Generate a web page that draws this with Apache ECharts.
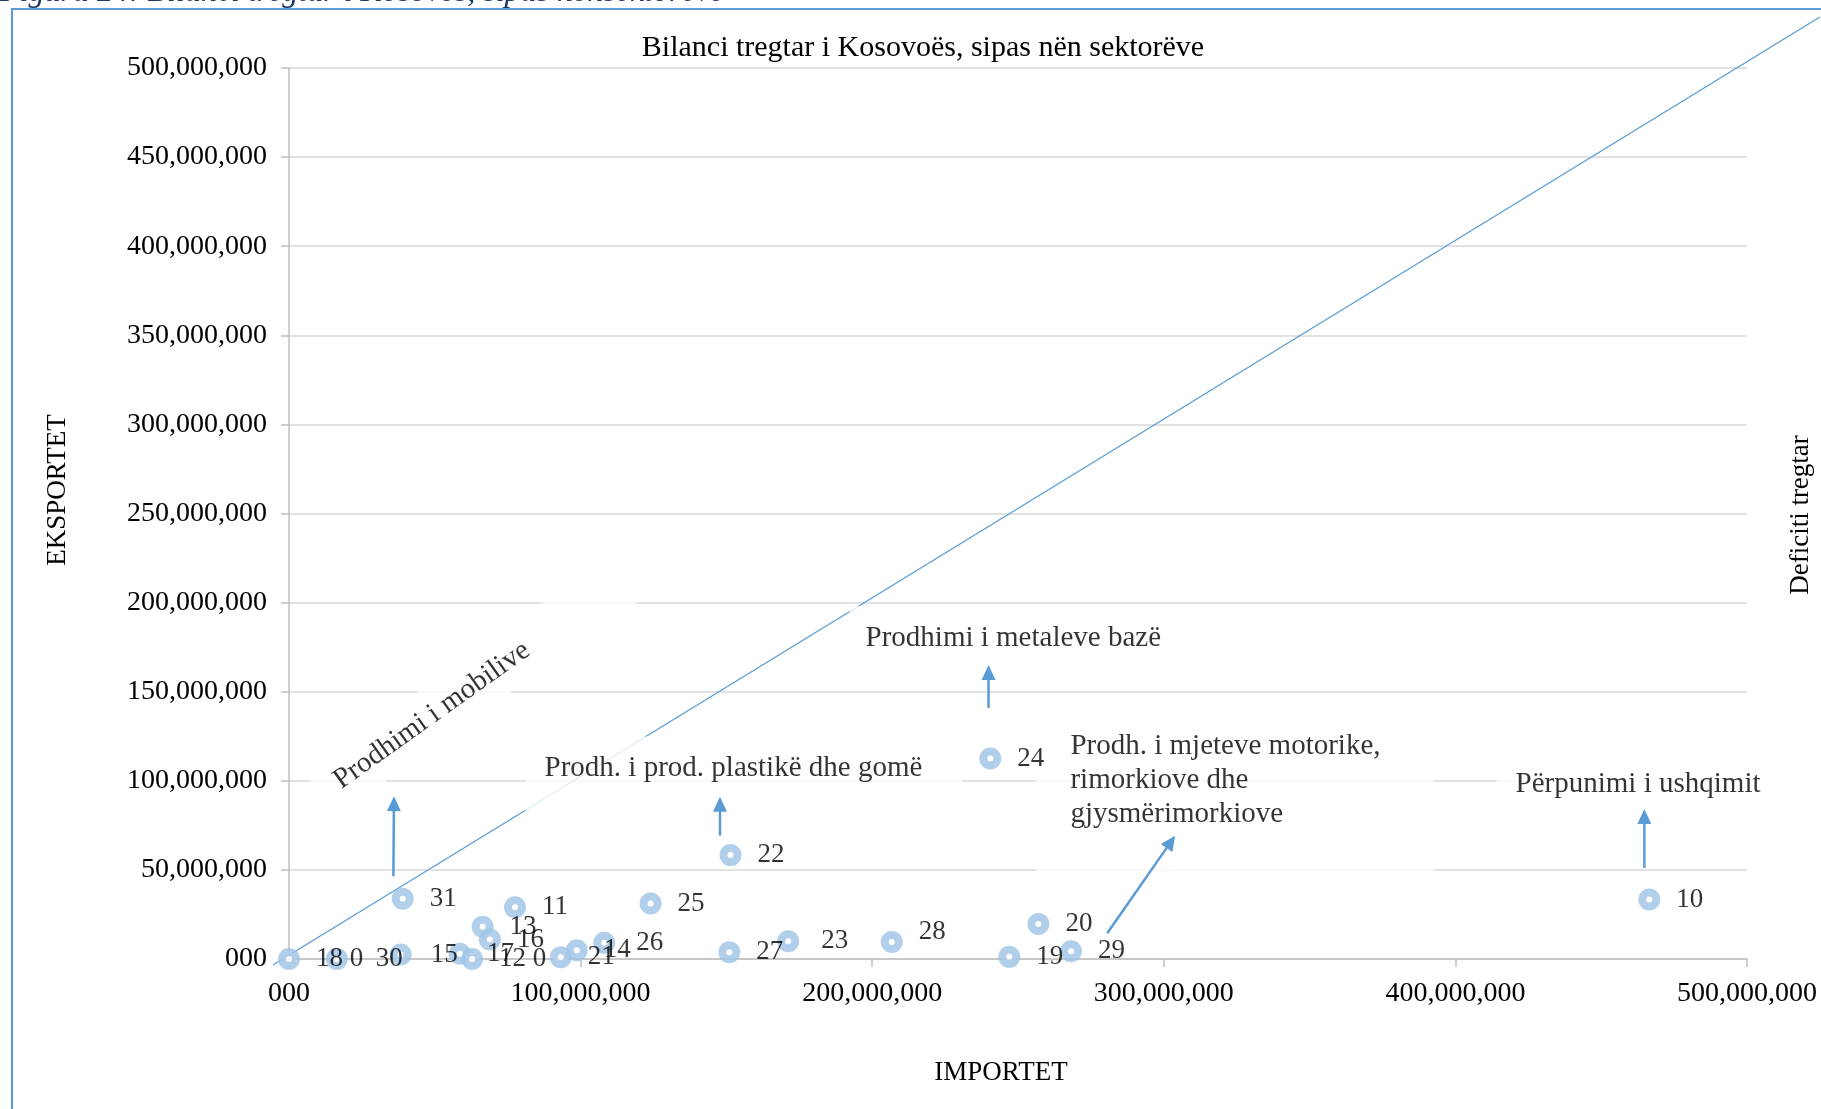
<!DOCTYPE html>
<html><head><meta charset="utf-8">
<script src="https://cdn.jsdelivr.net/npm/echarts@6/dist/echarts.min.js"></script>
<style>html,body{margin:0;padding:0;background:#fff}#c{width:1821px;height:1109px}</style>
</head><body><div id="c"></div>
<script>
const M = 1e6;
// ---- data (millions) ----
const sectorLabels = ['18 0','30','15','17','12 0','13','16','31','11','21','14','26','25','27','22','23','28','24','19','20','29','10'];
const importsM = [0, 16.4, 38.3, 58.6, 62.8, 66.4, 68.9, 39.0, 77.5, 93.2, 98.7, 108.1, 124.0, 151.0, 151.4, 171.2, 206.7, 240.5, 247.0, 257.0, 268.2, 466.5];
const exportsM = [0, 0, 2.5, 2.9, 0, 18.1, 10.9, 33.8, 29.0, 1.0, 4.9, 9.1, 31.1, 3.8, 58.3, 10.0, 9.6, 112.5, 1.2, 19.7, 4.4, 33.4];
const xTickValuesM = [0, 100, 200, 300, 400, 500];
const yTickValuesM = [0, 50, 100, 150, 200, 250, 300, 350, 400, 450, 500];
const deficitLineX = [-5.5, 525];
const deficitLineY = [-3.4, 528.6];
const annotationTexts = ['Prodhimi i mobilive', 'Prodh. i prod. plastikë dhe gomë', 'Prodhimi i metaleve bazë', 'Prodh. i mjeteve motorike,\nrimorkiove dhe\ngjysmërimorkiove', 'Përpunimi i ushqimit'];
const annotationX = [11.0, 81.3, 192.4, 256.5, 414.3];
const annotationY = [91.9, 124.6, 197.8, 135.5, 115.9];
const arrowFromX = [35.8, 147.8, 239.9, 280.6, 464.8];
const arrowFromY = [46.5, 69.3, 140.9, 14.5, 51.0];
const arrowToX = [36.0, 147.8, 239.9, 303.9, 464.8];
const arrowToY = [91.4, 91.0, 165.0, 69.2, 84.2];

// ---- styles ----
const SERIF = '"Liberation Serif", "Times New Roman", serif';
const BLUE = '#5B9BD5';
const annotationStyles = [
  {rotate: 35.5, align: 'left', verticalAlign: 'middle', padding: [12, 140, 12, 20], lineHeight: 30},
  {align: 'left', verticalAlign: 'top', padding: [16, 40, 50, 19], lineHeight: 32},
  {align: 'left', verticalAlign: 'top', padding: [16, 16, 16, 16], lineHeight: 32},
  {align: 'left', verticalAlign: 'top', padding: [13, 53, 50, 34], lineHeight: 33.7},
  {align: 'left', verticalAlign: 'top', padding: [16, 20, 16, 19], lineHeight: 32}
];
const labelShift = {'30': [12, 0], '28': [0, -10], '23': [6, 0], '26': [5, 0], '15': [3, 0]};
const fmt = v => v === 0 ? '000' : Math.round(v).toLocaleString('en-US');

const pointData = sectorLabels.map((n, i) => {
  const item = {name: n, value: [importsM[i] * M, exportsM[i] * M]};
  if (labelShift[n]) item.label = {offset: labelShift[n]};
  return item;
});
const annData = annotationTexts.map((t, i) => ({
  name: t, value: [annotationX[i] * M, annotationY[i] * M],
  label: Object.assign({show: true, position: [0, 0], formatter: t, backgroundColor: '#fff',
    fontFamily: SERIF, fontSize: 29, color: '#000'}, annotationStyles[i])
}));

const chart = echarts.init(document.getElementById('c'), null, {renderer: 'canvas'});
chart.setOption({
  animation: false,
  backgroundColor: '#fff',
  grid: {left: 289, right: 74, top: 68, bottom: 150, containLabel: false},
  xAxis: {
    type: 'value', min: xTickValuesM[0] * M, max: xTickValuesM[xTickValuesM.length - 1] * M,
    interval: (xTickValuesM[1] - xTickValuesM[0]) * M,
    axisLine: {show: true, lineStyle: {color: '#BFBFBF', width: 1.5}},
    axisTick: {show: true, length: 8, lineStyle: {color: '#BFBFBF', width: 1.5}},
    splitLine: {show: false},
    axisLabel: {formatter: fmt, fontFamily: SERIF, fontSize: 28, color: '#000', margin: 21}
  },
  yAxis: {
    type: 'value', min: yTickValuesM[0] * M, max: yTickValuesM[yTickValuesM.length - 1] * M,
    interval: (yTickValuesM[1] - yTickValuesM[0]) * M,
    axisLine: {show: true, lineStyle: {color: '#BFBFBF', width: 1.5}},
    axisTick: {show: true, length: 8, lineStyle: {color: '#BFBFBF', width: 1.5}},
    splitLine: {show: true, lineStyle: {color: '#D9D9D9', width: 1.5}},
    axisLabel: {formatter: fmt, fontFamily: SERIF, fontSize: 28, color: '#000', margin: 22, padding: [5, 0, 0, 0]}
  },
  series: [
    {
      type: 'scatter', z: 3, silent: true, symbolSize: 1,
      itemStyle: {color: 'rgba(0,0,0,0)'},
      data: annData
    },
    {
      type: 'scatter', z: 5, silent: true, symbol: 'circle', symbolSize: 14,
      itemStyle: {color: '#fff', borderColor: '#9DC3E6', borderWidth: 8},
      label: {show: true, position: 'right', distance: 16, formatter: p => p.name,
        fontFamily: SERIF, fontSize: 27, color: '#000'},
      data: pointData
    }
  ]
});

// pixel positions through the chart's own scales
const toPx = (xm, ym) => chart.convertToPixel({gridIndex: 0}, [xm * M, ym * M]);
const diag = deficitLineX.map((x, i) => toPx(x, deficitLineY[i]));
const graphics = [
  {type: 'polyline', z: 1, silent: true, shape: {points: diag},
    style: {stroke: BLUE, lineWidth: 1.3, fill: null}}
];
arrowFromX.forEach((x, i) => {
  const p1 = toPx(x, arrowFromY[i]);
  const p2 = toPx(arrowToX[i], arrowToY[i]);
  const dx = p2[0] - p1[0], dy = p2[1] - p1[1];
  const len = Math.sqrt(dx * dx + dy * dy);
  const ux = dx / len, uy = dy / len;
  const headLen = 15, headHalf = 7;
  const base = [p2[0] - ux * headLen, p2[1] - uy * headLen];
  graphics.push({type: 'line', z: 4, silent: true,
    shape: {x1: p1[0], y1: p1[1], x2: base[0] + ux * 2, y2: base[1] + uy * 2},
    style: {stroke: BLUE, lineWidth: 2.5}});
  graphics.push({type: 'polygon', z: 4, silent: true,
    shape: {points: [p2, [base[0] - uy * headHalf, base[1] + ux * headHalf], [base[0] + uy * headHalf, base[1] - ux * headHalf]]},
    style: {fill: BLUE}});
});
graphics.push(
  {type: 'rect', z: 100, silent: true, shape: {x: 12, y: 9, width: 3000, height: 3000},
    style: {fill: 'none', stroke: BLUE, lineWidth: 2}},
  {type: 'text', z: 100, silent: true, x: 0, y: -7,
    style: {text: 'Figura 24: Bilanci tregtar i Kosovës, sipas nënsektorëve', font: 'italic 32px ' + SERIF,
      fill: '#1F3864', align: 'left', verticalAlign: 'middle'}},
  {type: 'text', z: 100, silent: true, x: 923, y: 48.5,
    style: {text: 'Bilanci tregtar i Kosovoës, sipas nën sektorëve', font: '30px ' + SERIF,
      fill: '#000', align: 'center', verticalAlign: 'middle'}},
  {type: 'text', z: 100, silent: true, x: 58, y: 490, rotation: Math.PI / 2,
    style: {text: 'EKSPORTET', font: '27px ' + SERIF, fill: '#000', align: 'center', verticalAlign: 'middle'}},
  {type: 'text', z: 100, silent: true, x: 1001, y: 1073,
    style: {text: 'IMPORTET', font: '27px ' + SERIF, fill: '#000', align: 'center', verticalAlign: 'middle'}},
  {type: 'text', z: 100, silent: true, x: 1801, y: 515, rotation: Math.PI / 2,
    style: {text: 'Deficiti tregtar', font: '27px ' + SERIF, fill: '#000', align: 'center', verticalAlign: 'middle'}}
);
chart.setOption({graphic: graphics});
</script></body></html>
